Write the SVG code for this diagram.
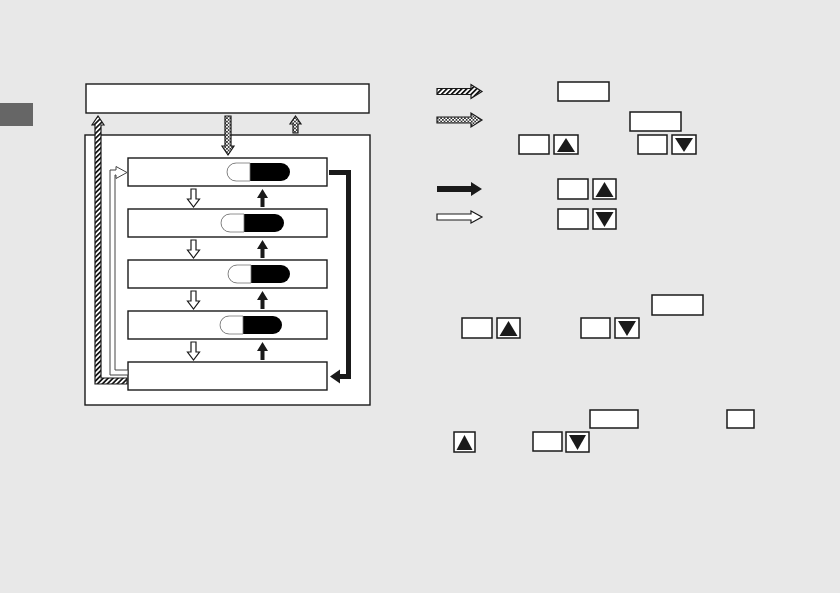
<svg xmlns="http://www.w3.org/2000/svg" width="840" height="593" viewBox="0 0 840 593">
<style>
.box{fill:#fff;stroke:#1a1a1a;stroke-width:1.4}
.btn{fill:#fff;stroke:#1a1a1a;stroke-width:1.5}
.tri{fill:#1a1a1a}
.hollow{fill:#fff;stroke:#1a1a1a;stroke-width:1.2}
.solid{fill:#1a1a1a}
.hatch{fill:url(#hatch);stroke:#1a1a1a;stroke-width:1.2}
.check{fill:url(#check);stroke:#1a1a1a;stroke-width:1.2}
</style>
<defs>
<pattern id="hatch" patternUnits="userSpaceOnUse" width="3.5" height="3.5" patternTransform="rotate(45)">
<rect width="3.5" height="3.5" fill="#fff"/>
<rect width="1.7" height="3.5" fill="#111"/>
</pattern>
<pattern id="check" patternUnits="userSpaceOnUse" width="3.4" height="3.4">
<rect width="3.4" height="3.4" fill="#fff"/>
<rect width="1.7" height="1.7" fill="#333"/>
<rect x="1.7" y="1.7" width="1.7" height="1.7" fill="#333"/>
</pattern>
</defs>
<rect width="840" height="593" fill="#e8e8e8"/>
<rect id="tab" x="0" y="103" width="33" height="23" fill="#666"/>

<g id="top-box"><rect class="box" x="86" y="84" width="283" height="29"/></g>
<g id="outer-box"><rect class="box" x="85" y="135" width="285" height="270"/></g>

<g id="mode1">
<rect class="box" x="128" y="158" width="199" height="28"/>
<rect x="227" y="163" width="63" height="18" rx="9" fill="#000"/>
<path d="M236,163 A9,9 0 0 0 236,181 H250 V163 Z" fill="#fff" stroke="#777" stroke-width="0.8"/>
</g>
<g id="mode2">
<rect class="box" x="128" y="209" width="199" height="28"/>
<rect x="221" y="214" width="63" height="18" rx="9" fill="#000"/>
<path d="M230,214 A9,9 0 0 0 230,232 H244 V214 Z" fill="#fff" stroke="#777" stroke-width="0.8"/>
</g>
<g id="mode3">
<rect class="box" x="128" y="260" width="199" height="28"/>
<rect x="228" y="265" width="62" height="18" rx="9" fill="#000"/>
<path d="M237,265 A9,9 0 0 0 237,283 H251 V265 Z" fill="#fff" stroke="#777" stroke-width="0.8"/>
</g>
<g id="mode4">
<rect class="box" x="128" y="311" width="199" height="28"/>
<rect x="220" y="316" width="62" height="18" rx="9" fill="#000"/>
<path d="M229,316 A9,9 0 0 0 229,334 H243 V316 Z" fill="#fff" stroke="#777" stroke-width="0.8"/>
</g>
<g id="mode5"><rect class="box" x="128" y="362" width="199" height="28"/></g>

<g id="connectors">
<polygon class="hollow" points="191,189 196,189 196,199 199.5,199 193.5,207 187.5,199 191,199"/>
<polygon class="hollow" points="191,240 196,240 196,250 199.5,250 193.5,258 187.5,250 191,250"/>
<polygon class="hollow" points="191,291 196,291 196,301 199.5,301 193.5,309 187.5,301 191,301"/>
<polygon class="hollow" points="191,342 196,342 196,352 199.5,352 193.5,360 187.5,352 191,352"/>
<polygon class="solid" points="262.5,189 268,198 264.5,198 264.5,207 260.5,207 260.5,198 257,198"/>
<polygon class="solid" points="262.5,240 268,249 264.5,249 264.5,258 260.5,258 260.5,249 257,249"/>
<polygon class="solid" points="262.5,291 268,300 264.5,300 264.5,309 260.5,309 260.5,300 257,300"/>
<polygon class="solid" points="262.5,342 268,351 264.5,351 264.5,360 260.5,360 260.5,351 257,351"/>
<path d="M329,172.5 H348.5 V376.5 H338" fill="none" stroke="#1a1a1a" stroke-width="5"/>
<polygon class="solid" points="330,376.5 340,369.5 340,383.5"/>
<polygon class="hatch" points="127,384 95,384 95,125 92,125 98,116 104,125 101,125 101,378 127,378"/>
<polygon fill="#fff" stroke="#444" stroke-width="1" points="128,375 110,375 110,170 116,170 116,166.5 127,172.5 116,178.5 116,175 115,175 115,370 128,370"/>
<polygon class="check" points="225,116 231,116 231,146 234,146 228,155 222,146 225,146"/>
<polygon class="check" points="295.5,116 301,124 298,124 298,133 293,133 293,124 290,124"/>
</g>

<g id="legend">
<polygon class="hatch" points="437,88.5 471,88.5 471,84.5 482,91.5 471,98.5 471,94.5 437,94.5"/>
<polygon class="check" points="437,117 471,117 471,113 482,120 471,127 471,123 437,123"/>
<polygon class="solid" points="437,186 471,186 471,182 482,189 471,196 471,192 437,192"/>
<polygon class="hollow" points="437,214 471,214 471,211 482,217 471,223 471,220 437,220"/>
<rect class="btn" x="558" y="82" width="51" height="19"/>
<rect class="btn" x="630" y="112" width="51" height="19"/>
<rect class="btn" x="519" y="135" width="30" height="19"/>
<rect class="btn" x="554" y="135" width="24" height="19"/>
<polygon class="tri" points="566,138 575,152 557,152"/>
<rect class="btn" x="638" y="135" width="29" height="19"/>
<rect class="btn" x="672" y="135" width="24" height="19"/>
<polygon class="tri" points="675,138 693,138 684,152"/>
<rect class="btn" x="558" y="179" width="30" height="20"/>
<rect class="btn" x="593" y="179" width="23" height="20"/>
<polygon class="tri" points="604.5,182 613.5,197 595.5,197"/>
<rect class="btn" x="558" y="209" width="30" height="20"/>
<rect class="btn" x="593" y="209" width="23" height="20"/>
<polygon class="tri" points="595.5,212 613.5,212 604.5,227"/>
</g>

<g id="text-buttons">
<rect class="btn" x="652" y="295" width="51" height="20"/>
<rect class="btn" x="462" y="318" width="30" height="20"/>
<rect class="btn" x="497" y="318" width="23" height="20"/>
<polygon class="tri" points="508.5,321 517.5,336 499.5,336"/>
<rect class="btn" x="581" y="318" width="29" height="20"/>
<rect class="btn" x="615" y="318" width="24" height="20"/>
<polygon class="tri" points="618,321 636,321 627,336"/>
<rect class="btn" x="590" y="410" width="48" height="18"/>
<rect class="btn" x="727" y="410" width="27" height="18"/>
<rect class="btn" x="454" y="432" width="21" height="20"/>
<polygon class="tri" points="464.5,435 472.5,450 456.5,450"/>
<rect class="btn" x="533" y="432" width="29" height="19"/>
<rect class="btn" x="566" y="432" width="23" height="20"/>
<polygon class="tri" points="569,435 586,435 577.5,450"/>
</g>
</svg>
